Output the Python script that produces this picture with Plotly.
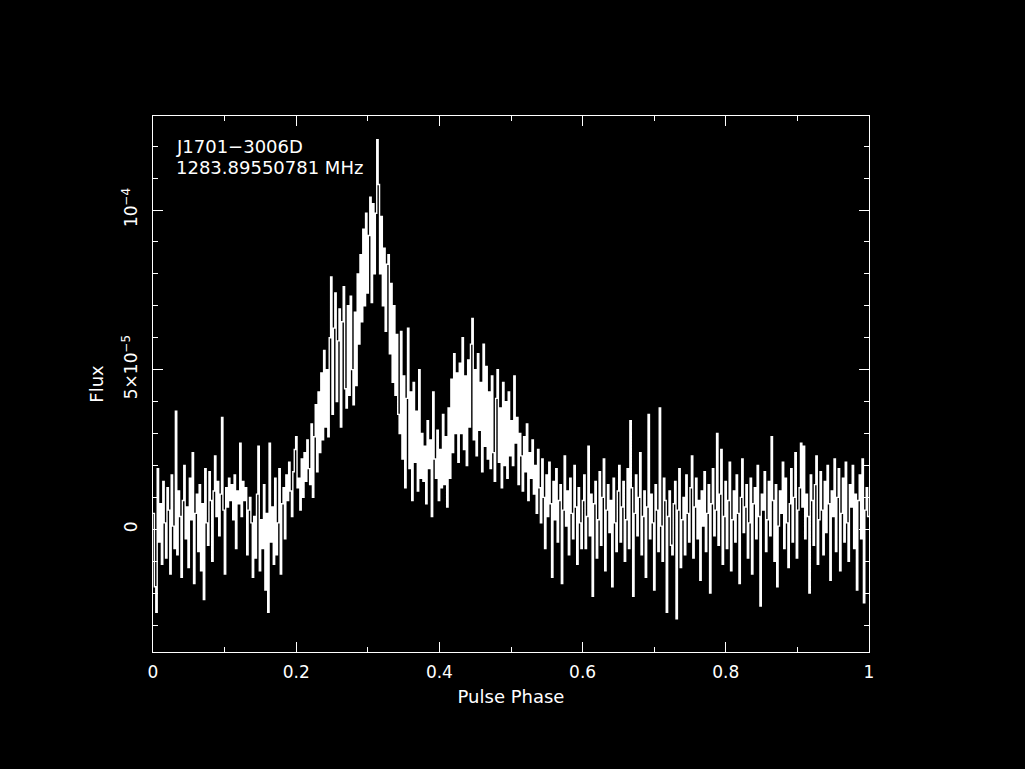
import plotly.graph_objects as go

flux_e5 = [
    0.5, -1.8, -2.6, 1.9, -0.4, 0.8, -1.1, 1.5, 0.2, -0.9, 1.3, 0.6, -1.4, 1.7, 0.1, -0.6,
    3.7, -0.8, 1.2, 0.4, -1.5, 0.9, 2.0, -0.3, 0.7, -1.2, 1.6, 0.3, 2.4, -1.7, 0.5, 1.1,
    -0.7, 1.4, -1.3, 0.8, -2.2, 1.9, 0.2, -0.5, 1.8, 0.9, -1.0, 1.2, 2.3, 0.4, 1.5, -0.2,
    1.1, 3.5, 0.6, -1.4, 1.3, 0.7, 1.6, 0.9, 1.4, 0.3, 1.7, -0.6, 1.2, 0.8, 2.7, 0.4,
    1.5, 0.9, 1.3, -0.8, 0.6, 1.0, 0.2, -1.5, 0.4, -0.9, 1.1, 2.6, -1.3, 0.3, -0.6, 1.4,
    -1.9, 0.5, -2.6, 2.7, -0.4, 0.7, -1.1, 1.6, -0.8, 0.2, 1.9, -1.4, 0.8, 1.3, -0.3, 1.7,
    0.9, 2.1, 1.2, 0.4, 1.8, 2.5, 2.9, 1.3, 1.6, 0.6, 2.2, 1.0, 2.4, 1.5, 2.8, 1.9,
    1.4, 3.3, 1.0, 2.9, 3.9, 1.8, 4.3, 2.4, 4.9, 2.8, 5.6, 3.2, 5.0, 2.9, 6.0, 7.9,
    3.6, 6.3, 7.4, 4.0, 5.9, 6.9, 3.2, 6.5, 7.6, 4.4, 3.8, 7.0, 4.2, 7.3, 5.0, 3.9,
    6.8, 4.5, 8.0, 5.8, 8.6, 6.5, 9.4, 7.0, 9.9, 7.4, 9.2, 10.4, 7.1, 10.2, 8.0, 9.9,
    12.2, 10.8, 8.0, 9.8, 7.0, 8.8, 6.2, 8.3, 8.6, 5.5, 7.7, 4.6, 7.0, 4.2, 6.1, 3.6,
    3.0, 6.2, 2.2, 4.8, 1.3, 4.1, 6.3, 1.9, 4.3, 0.9, 4.6, 2.1, 3.7, 1.2, 5.0, 1.6,
    3.0, 1.5, 2.6, 0.8, 3.4, 1.9, 2.8, 0.4, 4.3, 2.2, 1.6, 3.1, 0.9, 2.5, 1.3, 3.6,
    1.4, 2.9, 0.7, 3.8, 1.6, 4.7, 2.4, 5.5, 3.0, 4.9, 2.1, 5.2, 3.0, 6.0, 2.5, 4.8,
    2.0, 5.3, 3.2, 5.8, 6.6, 2.8, 5.0, 2.3, 5.5, 3.1, 4.6, 1.8, 5.8, 2.6, 5.1, 2.2,
    4.3, 1.9, 4.8, 2.4, 1.5, 4.1, 5.0, 2.1, 3.8, 1.3, 4.6, 2.0, 4.0, 1.6, 4.3, 2.3,
    3.4, 2.0, 4.8, 2.7, 3.5, 1.4, 3.0, 2.3, 1.2, 2.9, 1.8, 3.3, 0.9, 2.4, 1.6, 2.8,
    1.1, 2.0, 0.5, 2.5, 1.3, 0.2, 2.2, 1.0, -0.6, 1.7, 0.4, 2.1, 0.8, -1.5, 1.5, 0.3,
    1.9, -0.4, 0.9, 1.4, -1.7, 0.6, 2.3, 0.1, 1.2, -0.8, 1.6, 0.5, -0.3, 2.0, 0.7, -1.1,
    1.3, 0.2, -0.6, 0.9, 1.7, -0.6, 0.4, 2.6, -0.2, 1.1, -2.1, 0.8, 1.5, -0.9, 0.3, 1.8,
    -0.5, 1.0, 2.2, -1.3, 0.6, 1.4, -0.1, 0.9, -1.8, 1.6, 0.2, -0.7, 1.2, 2.0, -0.4, 0.7,
    1.5, -1.0, 0.3, 1.9, -0.6, 3.4, 1.3, -2.1, 0.5, 1.7, -0.2, 1.0, 2.4, -0.8, 0.4, 1.2,
    -1.5, 0.7, 3.6, -0.3, 1.1, 0.2, -1.9, 1.4, 0.6, -0.7, 3.8, 0.1, -1.0, 1.6, 0.9, -2.6,
    0.4, 1.2, -0.5, -0.8, 0.8, 1.5, -2.8, 0.6, 1.9, -1.2, 0.3, 1.0, -0.8, 1.7, 0.5, -0.4,
    1.3, 2.3, -0.9, 0.7, 1.6, -0.3, 0.9, -1.6, 1.2, 0.1, 1.8, -0.7, 0.5, 1.4, -2.0, 0.8,
    1.9, -0.2, 0.6, 3.0, -0.5, 1.1, 2.5, -1.1, 0.4, 1.5, -0.6, 0.9, 2.1, -1.3, 0.3, 1.2,
    -0.4, 1.7, 0.5, -1.7, 1.0, 2.2, -0.1, 0.7, 1.4, -0.9, 0.2, 1.6, -1.4, 0.8, 1.3, -0.3,
    2.0, 0.4, -2.4, 1.1, 0.6, 1.8, -0.7, 0.3, 1.5, -0.2, 2.9, 0.9, -1.0, 1.4, -1.8, 0.1,
    1.2, 0.5, 2.1, -0.6, 1.6, 0.2, -1.2, 0.8, 1.9, -0.4, 1.0, 2.4, -0.9, 0.6, 1.3, 2.7,
    0.7, 2.6, -0.3, 1.1, 0.4, -2.0, 1.7, 0.9, -0.5, 1.4, 2.3, -1.1, 0.3, 1.8, 0.6, -0.8,
    1.5, -0.1, 2.0, 0.8, -1.6, 1.2, 0.4, 2.2, -0.7, 1.0, 1.9, -1.3, 0.5, 1.6, -0.4, 2.1,
    0.2, -1.0, 1.4, 0.7, 2.0, -0.6, 1.1, -1.9, 0.9, 1.7, -0.3, 2.2, -2.3, 0.6, 1.3, 0.4,
]

source_name = "J1701\u22123006D"
frequency_label = "1283.89550781 MHz"
x_tick_vals = [0, 0.2, 0.4, 0.6, 0.8, 1.0]
x_tick_text = ["0", "0.2", "0.4", "0.6", "0.8", "1"]
y_tick_vals = [0, 5e-5, 1e-4]
y_tick_text = ["0", "5\u00d710<sup>\u22125</sup>", "10<sup>\u22124</sup>"]

n_bins = len(flux_e5)
flux = [v * 1e-5 for v in flux_e5]
# histogram step: left bin edges, plus closing edge at phase 1
phase = [i / n_bins for i in range(n_bins)] + [1.0]
flux_step = flux + [flux[-1]]

FONT = "DejaVu Sans"

fig = go.Figure()
fig.add_trace(go.Scatter(
    x=phase, y=flux_step, mode="lines",
    line=dict(color="white", width=1.4, shape="hv"),
    showlegend=False, hoverinfo="skip",
))

axis_common = dict(
    showline=True, linecolor="white", linewidth=1, mirror="allticks",
    ticks="inside", tickcolor="white", tickwidth=1, ticklen=10,
    showgrid=False, zeroline=False,
    tickfont=dict(family=FONT, size=17, color="white"),
)

fig.update_layout(
    width=1025, height=769,
    paper_bgcolor="black", plot_bgcolor="black",
    margin=dict(l=153, r=156, t=116, b=117),
    font=dict(family=FONT, color="white", size=17),
    xaxis=dict(
        range=[0, 1], tickvals=x_tick_vals, ticktext=x_tick_text,
        ticklabelstandoff=5,
        minor=dict(dtick=0.1, ticks="inside", ticklen=5, tickcolor="white", tickwidth=1),
        title=dict(text="Pulse Phase", font=dict(family=FONT, size=18, color="white"), standoff=8),
        **axis_common,
    ),
    yaxis=dict(
        range=[-3.843e-5, 1.2944e-4], tickvals=y_tick_vals, ticktext=y_tick_text,
        tickangle=-90, ticklabelstandoff=8,
        minor=dict(dtick=1e-5, ticks="inside", ticklen=5, tickcolor="white", tickwidth=1),
        title=dict(text="Flux", font=dict(family=FONT, size=18, color="white"), standoff=10),
        **axis_common,
    ),
    annotations=[
        dict(text=source_name, xref="paper", yref="paper", x=0.030, y=0.944,
             xanchor="left", yanchor="middle", showarrow=False,
             font=dict(family=FONT, size=18, color="white")),
        dict(text=frequency_label, xref="paper", yref="paper", x=0.030, y=0.903,
             xanchor="left", yanchor="middle", showarrow=False,
             font=dict(family=FONT, size=18, color="white")),
    ],
)

fig.write_html(
    "out.html",
    config={"displayModeBar": False},
    post_script="document.body.style.margin='0';document.body.style.background='black';document.body.style.overflow='hidden';",
)
